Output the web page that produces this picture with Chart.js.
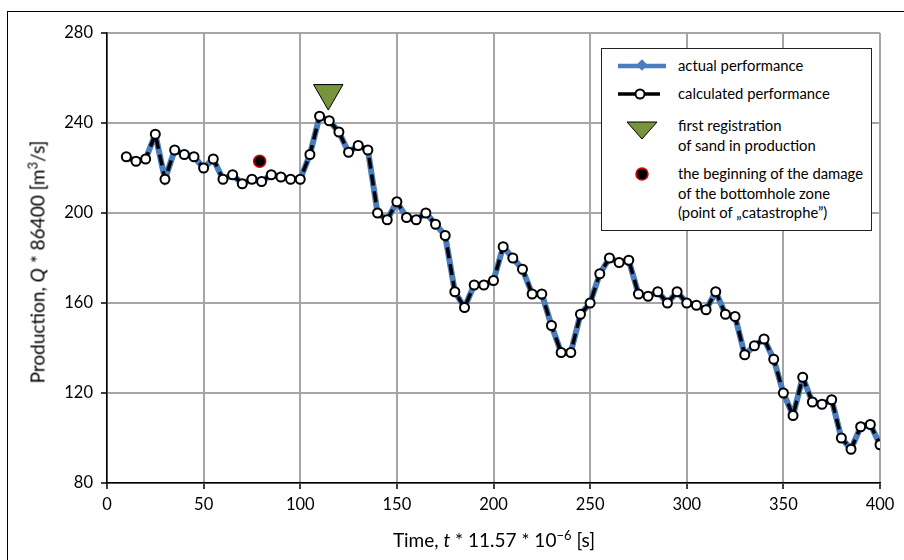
<!DOCTYPE html>
<html>
<head>
<meta charset="utf-8">
<script src="https://cdn.jsdelivr.net/npm/chart.js@4/dist/chart.umd.min.js"></script>
<style>
  body { margin: 0; background: #fff; }
  #wrap { position: relative; width: 904px; height: 560px; overflow: hidden; font-family: Lato, "Noto Sans", sans-serif; color: #000; }
  #frame { position: absolute; left: 7px; top: 11px; width: 1000px; height: 1000px; border-left: 1.5px solid #000; border-top: 1.5px solid #000; }
  #cv { position: absolute; left: 0; top: 0; }
  .ytitle { position: absolute; left: 37px; top: 262px; transform: translate(-50%, -50%) rotate(-90deg); white-space: nowrap; font-size: 19px; }
  .xtitle { position: absolute; left: 494px; top: 539px; transform: translate(-50%, -50%); white-space: nowrap; font-size: 19px; }
  sup { font-size: 13px; vertical-align: 7px; line-height: 0; }
  #legend { position: absolute; left: 601px; top: 48px; width: 271px; height: 183px; border: 1.5px solid #222; background: #fff; box-sizing: border-box; font-size: 14.8px; }
  #legend .txt { position: absolute; left: 76px; line-height: 19.5px; white-space: nowrap; }
  #legend svg { position: absolute; left: 0; top: 0; }
</style>
</head>
<body>
<div id="wrap">
  <div id="frame"></div>
  <canvas id="cv" width="904" height="560"></canvas>
  <div class="ytitle">Production, <i>Q</i> * 86400 [m<sup>3</sup>/s]</div>
  <div class="xtitle">Time, <i>t</i> * 11.57 * 10<sup>−6</sup> [s]</div>
  <div id="legend">
    <svg width="270" height="180">
      <line x1="16" y1="17" x2="64" y2="17" stroke="#4a7ebf" stroke-width="4.5"/>
      <rect x="36" y="12" width="8" height="8" fill="#4a7ebf" transform="rotate(45 40 16)"/>
      <line x1="16" y1="45" x2="58" y2="45" stroke="#000" stroke-width="3.5"/>
      <circle cx="38" cy="45" r="4.5" fill="#fff" stroke="#000" stroke-width="2"/>
      <polygon points="25,73 55,73 40,90" fill="#77933c" stroke="#000" stroke-width="1"/>
      <circle cx="40" cy="125" r="6" fill="#000" stroke="#e00000" stroke-width="1.5"/>
    </svg>
    <div class="txt" style="top:7px">actual performance</div>
    <div class="txt" style="top:35px">calculated performance</div>
    <div class="txt" style="top:67px">first registration<br>of sand in production</div>
    <div class="txt" style="top:115px">the beginning of the damage<br>of the bottomhole zone<br>(point of „catastrophe”)</div>
  </div>
</div>
<script>
// time points and production values
var tempo = [10, 15, 20, 25, 30, 35, 40, 45, 50, 55, 60, 65, 70, 75, 80, 85, 90, 95, 100,
  105, 110, 115, 120, 125, 130, 135, 140, 145, 150, 155, 160, 165, 170, 175, 180, 185, 190, 195, 200,
  205, 210, 215, 220, 225, 230, 235, 240, 245, 250, 255, 260, 265, 270, 275, 280, 285, 290, 295, 300,
  305, 310, 315, 320, 325, 330, 335, 340, 345, 350, 355, 360, 365, 370, 375, 380, 385, 390, 395, 400];

var producaoReal = [225, 223, 224, 235, 215, 228, 226, 225, 220, 224, 215, 217, 213, 215, 214, 217, 216, 215, 215,
  226, 243, 241, 236, 227, 230, 228, 200, 197, 205, 198, 197, 200, 195, 190, 165, 158, 168, 168, 170,
  185, 180, 175, 164, 164, 150, 138, 138, 155, 160, 173, 180, 178, 179, 164, 163, 165, 160, 165, 160,
  159, 157, 165, 155, 154, 137, 141, 144, 135, 120, 110, 127, 116, 115, 117, 100, 95, 105, 106, 97];

var producaoCalculada = producaoReal.slice();

var pontoAreia = [{ x: 114.5, y: 253.3 }];
var pontoCatastrofe = [{ x: 79, y: 223 }];

var ticksX = [0, 50, 100, 150, 200, 250, 300, 350, 400];
var ticksY = [80, 120, 160, 200, 240, 280];

function montarSerie(xs, ys) {
    var serie = [];
    for (var i = 0; i < xs.length; i++) {
        serie.push({ x: xs[i], y: ys[i] });
    }
    return serie;
}

Chart.defaults.font.family = "Lato, 'Noto Sans', sans-serif";
Chart.defaults.color = "#000";

var grafico = new Chart(document.getElementById("cv"), {
    type: "scatter",
    data: {
        datasets: [
            {
                label: "first registration of sand in production",
                data: pontoAreia,
                pointStyle: "triangle",
                rotation: 180,
                pointRadius: 17,
                backgroundColor: "#77933c",
                borderColor: "#000",
                borderWidth: 1,
                order: 0
            },
            {
                label: "the beginning of the damage",
                data: pontoCatastrofe,
                pointStyle: "circle",
                pointRadius: 6,
                backgroundColor: "#000",
                borderColor: "#e00000",
                borderWidth: 1.5,
                order: 1
            },
            {
                label: "calculated performance",
                data: montarSerie(tempo, producaoCalculada),
                showLine: true,
                borderColor: "#000",
                borderWidth: 3.5,
                borderDash: [11, 6],
                pointStyle: "circle",
                pointRadius: 4.5,
                pointBackgroundColor: "#fff",
                pointBorderColor: "#000",
                pointBorderWidth: 2,
                tension: 0,
                order: 2
            },
            {
                label: "actual performance",
                data: montarSerie(tempo, producaoReal),
                showLine: true,
                borderColor: "#4a7ebf",
                borderWidth: 6,
                borderJoinStyle: "round",
                pointStyle: "rectRot",
                pointRadius: 4.5,
                pointBackgroundColor: "#4a7ebf",
                pointBorderColor: "#4a7ebf",
                pointBorderWidth: 0,
                tension: 0,
                order: 3
            }
        ]
    },
    options: {
        responsive: false,
        animation: false,
        layout: { padding: { left: 0, right: 24, top: 33, bottom: 0 } },
        plugins: { legend: { display: false }, tooltip: { enabled: false } },
        scales: {
            x: {
                type: "linear",
                min: 0,
                max: 400,
                afterFit: function (scale) { scale.height = 77; },
                afterBuildTicks: function (scale) { scale.ticks = ticksX.map(function (v) { return { value: v }; }); },
                ticks: { font: { size: 16.5 }, padding: 6, maxRotation: 0 },
                grid: { color: "#a6a6a6", lineWidth: 2, tickColor: "#000", tickLength: 6, tickWidth: 1.5 },
                border: { color: "#000", width: 1.5 }
            },
            y: {
                type: "linear",
                min: 80,
                max: 280,
                afterFit: function (scale) { scale.width = 107; },
                afterBuildTicks: function (scale) { scale.ticks = ticksY.map(function (v) { return { value: v }; }); },
                ticks: { font: { size: 16.5 }, padding: 8 },
                grid: { color: "#a6a6a6", lineWidth: 2, tickColor: "#000", tickLength: 6, tickWidth: 1.5 },
                border: { color: "#000", width: 1.5 }
            }
        }
    }
});
</script>
</body>
</html>
